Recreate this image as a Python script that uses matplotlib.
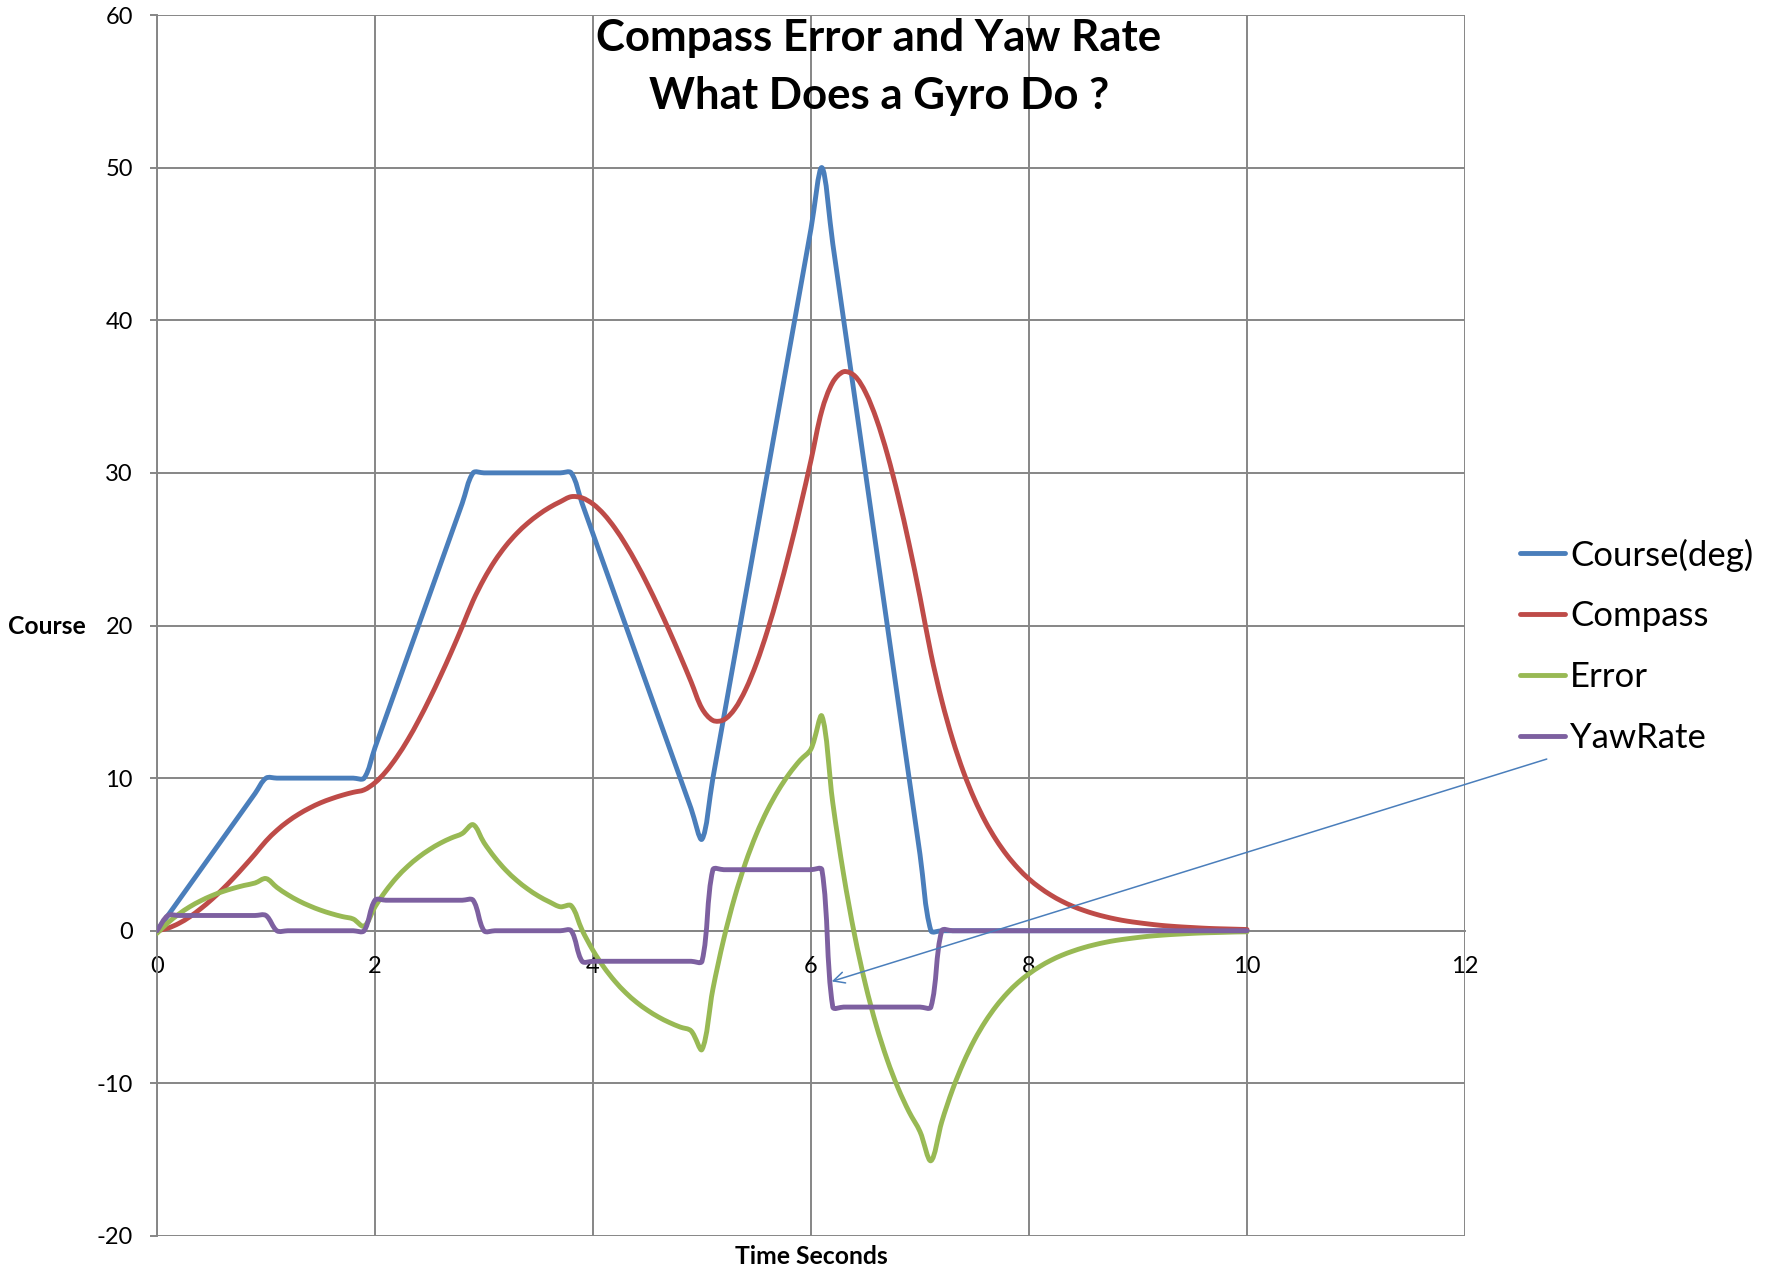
import numpy as np
import matplotlib
matplotlib.use("Agg")
import matplotlib.pyplot as plt
from matplotlib.path import Path
from matplotlib.patches import PathPatch

plt.rcParams['font.family'] = ['Lato', 'DejaVu Sans']
plt.rcParams['axes.unicode_minus'] = False

# データ (0.1秒刻み, 0〜10秒)
time_s = np.linspace(0, 10, 101)

course = [0, 1, 2, 3, 4, 5, 6, 7, 8, 9, 10,
          10, 10, 10, 10, 10, 10, 10, 10, 10,
          12, 14, 16, 18, 20, 22, 24, 26, 28, 30,
          30, 30, 30, 30, 30, 30, 30, 30, 30,
          28, 26, 24, 22, 20, 18, 16, 14, 12, 10, 8, 6,
          10, 14, 18, 22, 26, 30, 34, 38, 42, 46, 50,
          45, 40, 35, 30, 25, 20, 15, 10, 5, 0,
          0, 0, 0, 0, 0, 0, 0, 0, 0, 0, 0, 0, 0, 0, 0,
          0, 0, 0, 0, 0, 0, 0, 0, 0, 0, 0, 0, 0, 0]

compass = [0, 0.17, 0.48, 0.91, 1.44, 2.04, 2.71, 3.44, 4.22, 5.03, 5.88,
           6.58, 7.16, 7.64, 8.04, 8.38, 8.65, 8.88, 9.07, 9.23,
           9.70, 10.43, 11.38, 12.50, 13.78, 15.18, 16.68, 18.26, 19.92, 21.63,
           23.05, 24.24, 25.22, 26.03, 26.70, 27.26, 27.73, 28.11, 28.44,
           28.36, 27.96, 27.29, 26.39, 25.30, 24.06, 22.69, 21.21, 19.65, 18.01, 16.31, 14.56,
           13.78, 13.82, 14.53, 15.80, 17.53, 19.65, 22.09, 24.80, 27.72, 30.83, 34.09,
           35.94, 36.63, 36.36, 35.28, 33.53, 31.23, 28.47, 25.33, 21.87, 18.16,
           15.07, 12.51, 10.38, 8.62, 7.15, 5.94, 4.93, 4.09, 3.39, 2.82, 2.34, 1.94,
           1.61, 1.34, 1.11, 0.92, 0.76, 0.63, 0.53, 0.44, 0.36, 0.30, 0.25, 0.21,
           0.17, 0.14, 0.12, 0.10, 0.08]

error = [-0.17, 0.52, 1.09, 1.57, 1.96, 2.29, 2.56, 2.78, 2.97, 3.13, 3.42,
         2.84, 2.36, 1.96, 1.63, 1.35, 1.12, 0.93, 0.77, 0.30,
         1.57, 2.62, 3.50, 4.22, 4.82, 5.32, 5.74, 6.08, 6.37, 6.95,
         5.77, 4.79, 3.97, 3.30, 2.74, 2.27, 1.89, 1.57, 1.64,
         0.04, -1.29, -2.39, -3.30, -4.06, -4.69, -5.21, -5.65, -6.01, -6.31, -6.56, -7.78,
         -3.82, -0.53, 2.20, 4.47, 6.35, 7.91, 9.20, 10.28, 11.17, 11.91, 14.06,
         8.37, 3.65, -0.28, -3.53, -6.23, -8.47, -10.33, -11.87, -13.16, -15.07,
         -12.51, -10.38, -8.62, -7.15, -5.94, -4.93, -4.09, -3.39, -2.82, -2.34, -1.94, -1.61,
         -1.34, -1.11, -0.92, -0.76, -0.63, -0.53, -0.44, -0.36, -0.30, -0.25, -0.21, -0.17,
         -0.14, -0.12, -0.10, -0.08, -0.07]

yaw_rate = [0, 1, 1, 1, 1, 1, 1, 1, 1, 1, 1,
            0, 0, 0, 0, 0, 0, 0, 0, 0,
            2, 2, 2, 2, 2, 2, 2, 2, 2, 2,
            0, 0, 0, 0, 0, 0, 0, 0, 0,
            -2, -2, -2, -2, -2, -2, -2, -2, -2, -2, -2, -2,
            4, 4, 4, 4, 4, 4, 4, 4, 4, 4, 4,
            -5, -5, -5, -5, -5, -5, -5, -5, -5, -5,
            0, 0, 0, 0, 0, 0, 0, 0, 0, 0, 0, 0, 0, 0, 0,
            0, 0, 0, 0, 0, 0, 0, 0, 0, 0, 0, 0, 0, 0]

series_names = ["Course(deg)", "Compass", "Error", "YawRate"]
series_colors = ["#4A7EBB", "#BE4B48", "#98B954", "#7D60A0"]

x_ticks = [0, 2, 4, 6, 8, 10, 12]
y_ticks = [-20, -10, 0, 10, 20, 30, 40, 50, 60]


def smooth_path(x, y, sx=109.0, sy=15.26):
    """Excel風のなめらかな線 (区間の長さで重み付けしたベジェ曲線)"""
    pts = np.column_stack([x, y]).astype(float)
    n = len(pts)
    scale = np.array([sx, sy])

    def dist(a, b):
        return np.hypot(*((b - a) * scale)) + 1e-9

    verts = [pts[0]]
    codes = [Path.MOVETO]
    for i in range(n - 1):
        p0 = pts[max(i - 1, 0)]
        p1 = pts[i]
        p2 = pts[i + 1]
        p3 = pts[min(i + 2, n - 1)]
        d01, d12, d23 = dist(p0, p1), dist(p1, p2), dist(p2, p3)
        c1 = p1 + (p2 - p0) * d12 / (d01 + d12) / 3
        c2 = p2 - (p3 - p1) * d12 / (d12 + d23) / 3
        verts += [c1, c2, p2]
        codes += [Path.CURVE4] * 3
    return Path(verts, codes)


fig = plt.figure(figsize=(17.83, 12.71), dpi=100)
ax = fig.add_axes([157 / 1783, 35 / 1271, 1308 / 1783, 1221 / 1271])

grid_color = "#868686"
ax.set_xlim(0, 12)
ax.set_ylim(-20, 60)
ax.set_xticks(x_ticks)
ax.set_yticks(y_ticks)
ax.grid(True, color=grid_color, lw=1.4)
ax.set_axisbelow(True)

for s in ["top", "right"]:
    ax.spines[s].set_visible(False)
ax.spines["left"].set_color(grid_color)
ax.spines["left"].set_linewidth(1.4)
ax.spines["bottom"].set_position(("data", 0))
ax.spines["bottom"].set_color(grid_color)
ax.spines["bottom"].set_linewidth(1.4)

ax.tick_params(axis="y", length=5.4, width=1.4, color=grid_color, pad=12, labelsize=17)
ax.tick_params(axis="x", length=0, pad=18, labelsize=17)

for y, name, color in zip([course, compass, error, yaw_rate], series_names, series_colors):
    patch = PathPatch(smooth_path(time_s, y), facecolor="none", edgecolor=color,
                      lw=3.5, capstyle="round", joinstyle="round", zorder=3)
    ax.add_patch(patch)
    ax.plot([], [], color=color, lw=3.5, solid_capstyle="round", label=name)

ax.legend(loc="center left", bbox_to_anchor=(1520 / 1783, 0.4915),
          bbox_transform=fig.transFigure, frameon=False, fontsize=25,
          handlelength=1.3, handletextpad=0.15, labelspacing=0.83,
          borderpad=0, borderaxespad=0)

# 矢印
ax.annotate("", xy=(6.19, -3.32), xytext=(12.75, 11.25),
            arrowprops=dict(arrowstyle="->", color="#4A7EBB", lw=1.1,
                            mutation_scale=20, shrinkA=0, shrinkB=0),
            annotation_clip=False, zorder=5)

fig.text(879 / 1783, 1 - 38 / 1271, "Compass Error and Yaw Rate",
         ha="center", va="center", fontsize=31.5, fontweight="bold")
fig.text(879 / 1783, 1 - 96 / 1271, "What Does a Gyro Do ?",
         ha="center", va="center", fontsize=31.5, fontweight="bold")
fig.text(47 / 1783, 1 - 626 / 1271, "Course", ha="center", va="center",
         fontsize=17.8, fontweight="bold")
fig.text(811 / 1783, 1 - 1257 / 1271, "Time Seconds", ha="center", va="center",
         fontsize=17.8, fontweight="bold")

fig.savefig("out.png", dpi=100)
